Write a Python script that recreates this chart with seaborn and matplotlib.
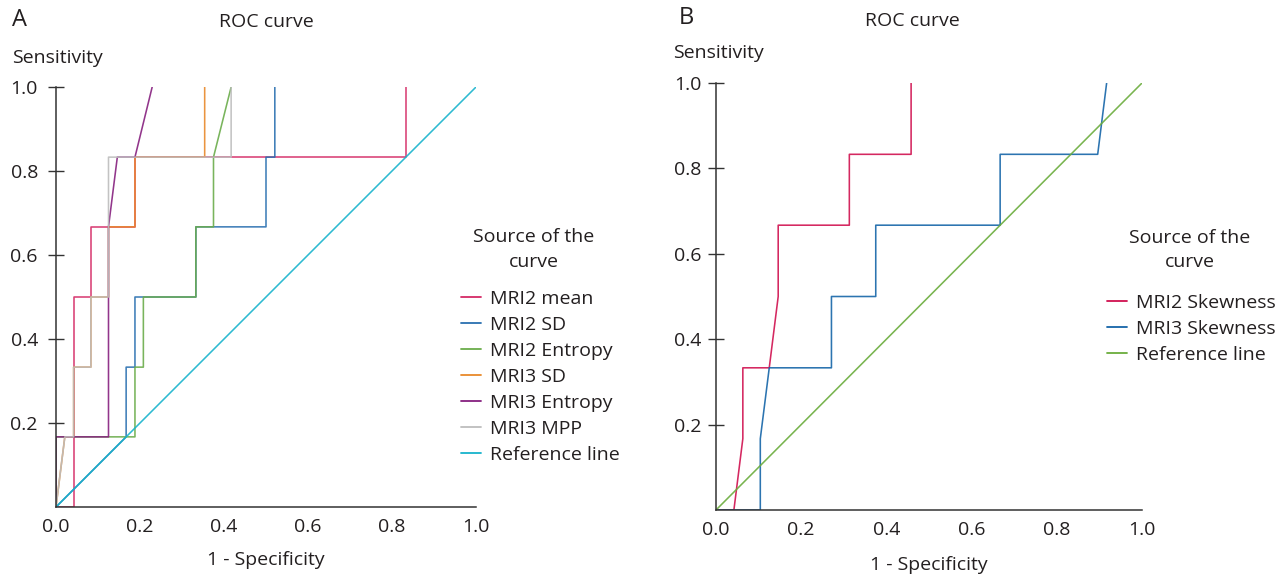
import matplotlib
matplotlib.use("Agg")
import matplotlib.pyplot as plt
import pandas as pd
import seaborn as sns

# Panel A - ROC curves (1 - specificity, sensitivity)
mri2_mean_x = [0, 0.042, 0.042, 0.083, 0.083, 0.188, 0.188, 0.833, 0.833]
mri2_mean_y = [0, 0, 0.5, 0.5, 0.667, 0.667, 0.833, 0.833, 1.0]
mri2_sd_x = [0, 0.167, 0.167, 0.188, 0.188, 0.333, 0.333, 0.5, 0.5, 0.521, 0.521]
mri2_sd_y = [0, 0.167, 0.333, 0.333, 0.5, 0.5, 0.667, 0.667, 0.833, 0.833, 1.0]
mri2_entropy_x = [0, 0, 0.188, 0.188, 0.208, 0.208, 0.333, 0.333, 0.375, 0.375, 0.417]
mri2_entropy_y = [0, 0.167, 0.167, 0.333, 0.333, 0.5, 0.5, 0.667, 0.667, 0.833, 1.0]
mri3_sd_x = [0, 0.021, 0.042, 0.042, 0.083, 0.083, 0.125, 0.125, 0.188, 0.188, 0.354, 0.354]
mri3_sd_y = [0, 0.167, 0.167, 0.333, 0.333, 0.5, 0.5, 0.667, 0.667, 0.833, 0.833, 1.0]
mri3_entropy_x = [0, 0, 0.125, 0.125, 0.146, 0.188, 0.229]
mri3_entropy_y = [0, 0.167, 0.167, 0.667, 0.833, 0.833, 1.0]
mri3_mpp_x = [0, 0.021, 0.042, 0.042, 0.083, 0.083, 0.125, 0.125, 0.417, 0.417]
mri3_mpp_y = [0, 0.167, 0.167, 0.333, 0.333, 0.5, 0.5, 0.833, 0.833, 1.0]

# Panel B
mri2_skew_x = [0, 0.042, 0.063, 0.063, 0.125, 0.146, 0.146, 0.313, 0.313, 0.458, 0.458]
mri2_skew_y = [0, 0, 0.167, 0.333, 0.333, 0.5, 0.667, 0.667, 0.833, 0.833, 1.0]
mri3_skew_x = [0, 0.104, 0.104, 0.125, 0.271, 0.271, 0.375, 0.375, 0.667, 0.667, 0.896, 0.917]
mri3_skew_y = [0, 0, 0.167, 0.333, 0.333, 0.5, 0.5, 0.667, 0.667, 0.833, 0.833, 1.0]

ref_x = [0, 1]
ref_y = [0, 1]

x_ticks = [0, 0.2, 0.4, 0.6, 0.8, 1.0]
y_ticks = [0.2, 0.4, 0.6, 0.8, 1.0]

curves_a = [
    ("MRI2 mean", mri2_mean_x, mri2_mean_y, "#d42a66"),
    ("MRI2 SD", mri2_sd_x, mri2_sd_y, "#2a70b0"),
    ("MRI2 Entropy", mri2_entropy_x, mri2_entropy_y, "#6aac4a"),
    ("MRI3 SD", mri3_sd_x, mri3_sd_y, "#e8892a"),
    ("MRI3 Entropy", mri3_entropy_x, mri3_entropy_y, "#86207f"),
    ("MRI3 MPP", mri3_mpp_x, mri3_mpp_y, "#bdbdbd"),
    ("Reference line", ref_x, ref_y, "#17b3cc"),
]
curves_b = [
    ("MRI2 Skewness", mri2_skew_x, mri2_skew_y, "#d0104f"),
    ("MRI3 Skewness", mri3_skew_x, mri3_skew_y, "#1565a8"),
    ("Reference line", ref_x, ref_y, "#6aac3c"),
]

sns.set_style("white")
plt.rcParams["font.family"] = ["Open Sans", "DejaVu Sans"]
TXT = "#231f20"
FS = 14

W, H = 1283, 575
fig = plt.figure(figsize=(W / 100, H / 100), dpi=100)


def fx(px):
    return px / W


def fy(py):
    return 1 - py / H


def roc_panel(rect, curves, leg_xy, xlabelpad, ypad):
    ax = fig.add_axes(rect)
    for name, xs, ys, col in curves:
        df = pd.DataFrame({"x": xs, "y": ys})
        sns.lineplot(data=df, x="x", y="y", ax=ax, color=col, label=name,
                     estimator=None, sort=False, linewidth=1.15, alpha=0.9)
    ax.set_xlim(0, 1)
    ax.set_ylim(0, 1)
    ax.set_xticks(x_ticks)
    ax.set_xticklabels([f"{v:.1f}" for v in x_ticks])
    ax.set_yticks(y_ticks)
    ax.set_yticklabels([f"{v:.1f}" for v in y_ticks])
    ax.tick_params(axis="x", bottom=False, length=0, pad=8, labelsize=FS,
                   labelcolor=TXT)
    ax.tick_params(axis="y", left=True, direction="inout", length=11,
                   width=1.0, color="#333333", pad=ypad, labelsize=FS,
                   labelcolor=TXT)
    for s in ["top", "right"]:
        ax.spines[s].set_visible(False)
    for s in ["left", "bottom"]:
        ax.spines[s].set_color("#333333")
        ax.spines[s].set_linewidth(1.1)
    ax.set_xlabel("1 - Specificity", fontsize=FS, color=TXT, labelpad=xlabelpad)
    ax.set_ylabel("")
    leg = ax.legend(loc="upper left", bbox_to_anchor=leg_xy,
                    bbox_transform=fig.transFigure, frameon=False,
                    fontsize=FS, handlelength=1.05, handletextpad=0.45,
                    labelspacing=0.41, borderpad=0, borderaxespad=0)
    for t in leg.get_texts():
        t.set_color(TXT)
    for h in leg.get_lines():
        h.set_linewidth(1.3)
        h.set_alpha(1)
    return ax


roc_panel([fx(56), 68 / H, 420 / W, 420 / H], curves_a, (fx(461), fy(290)), 10.5, 7.5)
roc_panel([fx(716), 65 / H, 426 / W, 427 / H], curves_b, (fx(1107), fy(294)), 12, 5)

fig.text(fx(12), fy(20), "A", fontsize=17, color=TXT, va="center", ha="left")
fig.text(fx(266), fy(22), "ROC curve", fontsize=FS, color=TXT, va="center", ha="center")
fig.text(fx(12), fy(58), "Sensitivity", fontsize=FS, color=TXT, va="center", ha="left")
fig.text(fx(534), fy(237), "Source of the", fontsize=FS, color=TXT, va="center", ha="center")
fig.text(fx(534), fy(262), "curve", fontsize=FS, color=TXT, va="center", ha="center")

fig.text(fx(679), fy(18), "B", fontsize=17, color=TXT, va="center", ha="left")
fig.text(fx(912), fy(21), "ROC curve", fontsize=FS, color=TXT, va="center", ha="center")
fig.text(fx(673), fy(53), "Sensitivity", fontsize=FS, color=TXT, va="center", ha="left")
fig.text(fx(1190), fy(238), "Source of the", fontsize=FS, color=TXT, va="center", ha="center")
fig.text(fx(1190), fy(262), "curve", fontsize=FS, color=TXT, va="center", ha="center")

fig.savefig("out.png", dpi=100)
